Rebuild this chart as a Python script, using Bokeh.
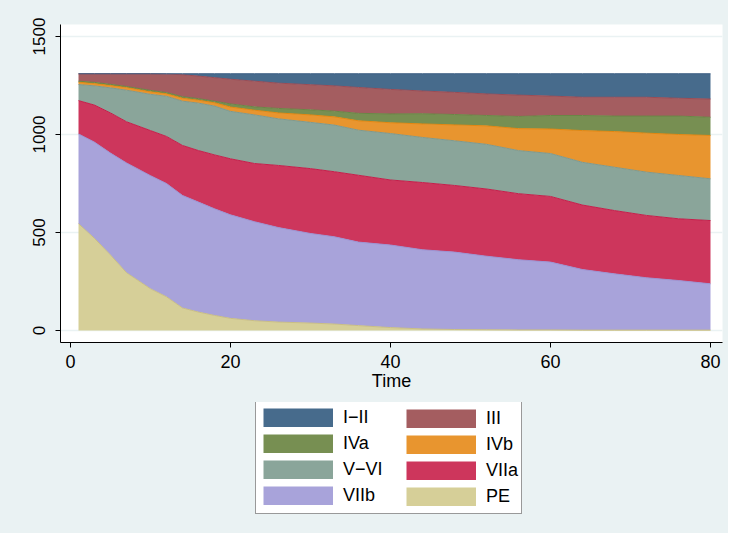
from bokeh.plotting import figure
from bokeh.layouts import column
from bokeh.models import Range1d, Legend, LegendItem, FixedTicker, ColumnDataSource
from bokeh.transform import stack
from bokeh.embed import file_html
from bokeh.resources import INLINE

# ---- data ----
time = [1, 3, 5, 7, 10, 12, 14, 16, 18, 20, 23, 26, 30, 33, 36, 40, 44, 48, 52, 56, 60, 64, 68, 72, 76, 80]
pe   = [545, 470, 385, 295, 213, 172, 115, 94, 77, 62, 50, 43, 38, 33, 25, 15, 8, 5, 4, 3, 3, 2, 2, 2, 2, 2]
viib = [458, 491, 520, 560, 577, 578, 574, 561, 544, 528, 505, 482, 457, 445, 426, 421, 404, 395, 375, 358, 346, 309, 287, 267, 253, 236]
viia = [170, 189, 205, 210, 230, 240, 255, 263, 275, 286, 297, 317, 331, 332, 341, 332, 343, 340, 343, 337, 335, 329, 323, 318, 315, 323]
v_vi = [82, 98, 128, 161, 185, 205, 226, 242, 249, 242, 248, 238, 236, 238, 230, 237, 230, 228, 228, 220, 219, 218, 221, 221, 221, 213]
ivb  = [12, 12, 12, 14, 13, 13, 15, 15, 17, 22, 24, 30, 38, 42, 48, 55, 69, 81, 94, 112, 125, 162, 182, 199, 209, 221]
iva  = [5, 6, 6, 5, 7, 6, 8, 8, 8, 16, 17, 23, 26, 29, 38, 45, 52, 53, 53, 62, 69, 77, 79, 87, 94, 93]
iii  = [38, 44, 54, 65, 85, 94, 112, 115, 120, 126, 131, 129, 128, 129, 132, 125, 116, 113, 110, 109, 99, 93, 96, 96, 91, 93]
i_ii = [0, 0, 0, 0, 0, 2, 5, 12, 20, 28, 38, 48, 56, 62, 70, 80, 88, 95, 103, 109, 114, 120, 120, 120, 125, 129]

series_names = ["pe", "viib", "viia", "v_vi", "ivb", "iva", "iii", "i_ii"]
series_labels = ["PE", "VIIb", "VIIa", "V\u2212VI", "IVb", "IVa", "III", "I\u2212II"]
x_ticks = [0, 20, 40, 60, 80]
y_ticks = [0, 500, 1000, 1500]

fills = ["#D6CF98", "#A8A3DA", "#CD365C", "#8AA59A", "#E8952F", "#778F52", "#A45D60", "#476B8C"]
edges = ["#C9BE84", "#9B93D3", "#C41E4A", "#7E998E", "#E3860F", "#6A8645", "#9A4C55", "#3E6085"]

source = ColumnDataSource(dict(time=time, pe=pe, viib=viib, viia=viia, v_vi=v_vi,
                               ivb=ivb, iva=iva, iii=iii, i_ii=i_ii))

BG = "#EAF2F3"
FONT = "Liberation Sans"

# ---------------- main chart ----------------
p = figure(width=728, height=402, output_backend="svg", toolbar_location=None,
           x_range=Range1d(-1.25, 81.5), y_range=Range1d(-61.2, 1561.2),
           min_border_left=60, min_border_right=6, min_border_top=24, min_border_bottom=60)
p.background_fill_color = "white"
p.border_fill_color = BG
p.outline_line_color = None

areas = p.varea_stack(stackers=series_names, x="time", color=fills, source=source)
for i, nm in enumerate(series_names):
    p.line(x="time", y=stack(*series_names[:i + 1]), source=source,
           line_color=edges[i], line_width=1)

for ax in (p.xaxis[0], p.yaxis[0]):
    ax.axis_line_color = "black"
    ax.major_tick_line_color = "black"
    ax.major_tick_out = 5
    ax.major_tick_in = 0
    ax.minor_tick_line_color = None
    ax.major_label_text_color = "black"
    ax.major_label_text_font = FONT
    ax.major_label_text_font_size = "18px"
p.xaxis.ticker = FixedTicker(ticks=x_ticks)
p.yaxis.ticker = FixedTicker(ticks=y_ticks)
p.yaxis.major_label_orientation = "vertical"
p.yaxis.major_label_text_font_size = "17px"
p.yaxis.major_label_standoff = 10
p.xaxis.major_label_standoff = 7
p.xaxis.axis_label = "Time"
p.xaxis.axis_label_text_font = FONT
p.xaxis.axis_label_text_font_size = "18px"
p.xaxis.axis_label_text_font_style = "normal"
p.xaxis.axis_label_text_color = "black"
p.xaxis.axis_label_standoff = 0

p.xgrid.grid_line_color = None
p.ygrid.grid_line_color = BG
p.ygrid.grid_line_width = 1.5

# ---------------- legend strip ----------------
q = figure(width=728, height=131, output_backend="svg", toolbar_location=None,
           x_range=Range1d(1000, 1001), y_range=Range1d(-61.2, 1561.2),
           x_axis_type=None, y_axis_type=None,
           min_border_left=0, min_border_right=0, min_border_top=0, min_border_bottom=0)
q.background_fill_color = BG
q.border_fill_color = BG
q.outline_line_color = None
q.xgrid.grid_line_color = None
q.ygrid.grid_line_color = None

swatch = {}
for i, nm in enumerate(series_names):
    swatch[nm] = q.line(x="time", y=stack(*series_names[:i + 1]), source=source,
                        line_color=fills[i], line_width=19, line_cap="butt")

col1 = [7, 5, 3, 1]   # I-II, IVa, V-VI, VIIb
col2 = [6, 4, 2, 0]   # III, IVb, VIIa, PE
common = dict(orientation="vertical", glyph_width=70, glyph_height=19, label_standoff=10,
              spacing=5, padding=7, margin=0, label_text_font=FONT,
              label_text_font_size="18px", label_text_color="black")
leg1 = Legend(items=[LegendItem(label=series_labels[i], renderers=[swatch[series_names[i]]]) for i in col1],
              location=(195, 19), label_width=171,
              border_line_color="#333333", border_line_width=1,
              background_fill_color="white", background_fill_alpha=1, **common)
leg2 = Legend(items=[LegendItem(label=series_labels[i], renderers=[swatch[series_names[i]]]) for i in col2],
              location=(346, 26), label_width=30,
              border_line_color=None, background_fill_alpha=0, **common)
q.add_layout(leg1, "center")
q.add_layout(leg2, "center")

layout = column(p, q, spacing=0, styles={"background-color": BG})
open("out.html", "w").write(file_html(layout, INLINE))
